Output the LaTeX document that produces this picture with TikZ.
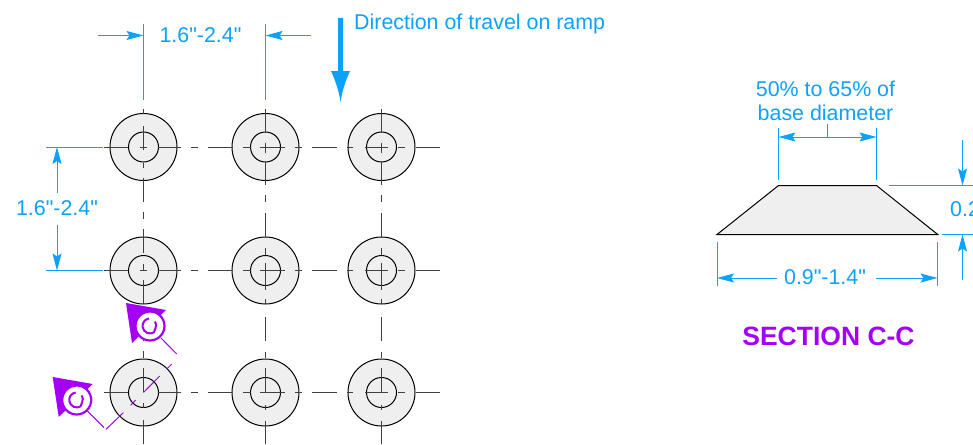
\documentclass[tikz,border=0pt]{standalone}
\usepackage{fontspec}
\setmainfont{Liberation Sans}[Ligatures=TeXOff]
\usepackage{tikz}
\usetikzlibrary{arrows.meta}
\definecolor{dimblue}{HTML}{0CA2FA}
\definecolor{secpurple}{HTML}{A400F5}
\definecolor{padgray}{HTML}{EFEFEF}
\tikzset{
	dimline/.style={draw=dimblue, line width=1pt},
	dimarrow/.style={dimline, -{Stealth[length=17pt,width=9pt,inset=3pt,color=dimblue]}},
	dimtext/.style={text=dimblue, inner sep=0pt, font=\fontsize{21.4}{24}\selectfont},
	outerpad/.style={circle, draw=black, fill=padgray, line width=1pt, minimum size=67pt, inner sep=0pt},
	innerpad/.style={circle, draw=black, line width=1pt, minimum size=30pt, inner sep=0pt},
	centerline/.style={draw=black!75, line width=1pt},
	cutline/.style={draw=secpurple, line width=1pt},
}
\newcommand{\cutmark}[3]{%
	\fill [secpurple] (#1-24,#2-23) -- (#1+16,#2-16) -- (#1-18,#2+17) -- cycle;
	\node [circle, draw=secpurple, fill=white, line width=2.2pt, minimum size=29pt, inner sep=0pt] (#3) at (#1,#2) {};
	\draw [secpurple, line width=2pt] (#1-1,#2-7.5) arc[start angle=98, end angle=300, x radius=7.5, y radius=-7.5] .. controls (#1+7,#2-1) and (#1+6.5,#2-3) .. (#1+5,#2-4.5);
}

\begin{document}
\begin{tikzpicture}[x=1pt,y=-1pt]
	\useasboundingbox (0,0) rectangle (973,444);
	% pads
	\foreach \x/\c in {143.5/a,265.5/b,381.5/c}
		\foreach \y/\r in {147/1,270.5/2,392.5/3} {
			\node [outerpad] (pad\c\r) at (\x,\y) {};
			\node [innerpad] (hole\c\r) at (\x,\y) {};
		}
	% horizontal center lines
	\foreach \y in {147,270.5,392.5}
		\foreach \s/\e in {104/128,158/181,191/198,208/232,243/251,260/285,295/302,312/337,347/353,365/388,398/405,416/440}
			\draw [centerline] (\s,\y) -- (\e,\y);
	\foreach \y in {147,270.5}
		\draw [centerline] (139.5,\y) -- (146.5,\y);
	% vertical center lines
	\foreach \s/\e in {109/114,126/150,163/168,178/202,212/219,229/253,264/271,280/304,317/341,351/358,368/392,403/408,420/444}
		\draw [centerline] (143.5,\s) -- (143.5,\e);
	\foreach \x in {265.5,381.5}
		\foreach \s/\e in {109/133,143/153,162/185,195/202,213/237,248/255,263/290,299/304,317/341,352/358,368/392,405/410,421/444}
			\draw [centerline] (\x,\s) -- (\x,\e);
	% section cut
	\draw [cutline] (161,338) -- (176.7,354);
	\draw [cutline] (171.7,364) -- (166.7,369);
	\draw [cutline] (159.7,376) -- (143.5,392.5);
	\draw [cutline] (135.7,400) -- (130.7,405.3);
	\draw [cutline] (123.3,412.7) -- (106,429.3);
	\draw [cutline] (104,427.7) -- (87.3,411);
	\cutmark{150}{326}{cutu}
	\cutmark{76.7}{400}{cutl}
	% top dimension
	\coordinate (tl) at (143.5,35.5);
	\coordinate (tr) at (265.5,35.5);
	\draw [dimline] (143.5,24) -- (143.5,100);
	\draw [dimline] (265.5,24) -- (265.5,100);
	\draw [dimarrow] (97.5,35.5) -- (tl);
	\draw [dimarrow] (311,35.5) -- (tr);
	\node [dimtext] (toplabel) at (200.5,35.5) {1.6"-2.4"};
	% left dimension
	\coordinate (lt) at (57,147);
	\coordinate (lb) at (57,270.5);
	\draw [dimline] (46,147) -- (103,147);
	\draw [dimline] (46,270.5) -- (103,270.5);
	\draw [dimarrow] (57,193) -- (lt);
	\draw [dimarrow] (57,225) -- (lb);
	\node [dimtext] (leftlabel) at (57,208.5) {1.6"-2.4"};
	% direction of travel
	\fill [dimblue] (338,18) -- (343.2,18) -- (343.2,71) -- (350,71) .. controls (345,82) and (342,92) .. (340.6,102) .. controls (339,92) and (336,82) .. (331,71) -- (338,71) -- cycle;
	\node [dimtext, anchor=base west] (travel) at (354,29.5) {Direction of travel on ramp};
	% section
	\draw [fill=padgray, draw=black, line width=1pt] (717,234.5) -- (778.5,185.5) -- (876.5,185.5) -- (937.7,234.5) -- cycle;
	\node [dimtext, align=center] (toptext) at (825.5,100.5) {50\% to 65\% of\\base diameter};
	\coordinate (ul) at (778.5,137);
	\coordinate (ur) at (876.5,137);
	\draw [dimline] (778.5,128) -- (778.5,180);
	\draw [dimline] (876.5,128) -- (876.5,180);
	\draw [dimline] (827.5,124) -- (827.5,137);
	\draw [dimarrow] (827.5,137) -- (ul);
	\draw [dimarrow] (827.5,137) -- (ur);
	% height
	\coordinate (ht) at (962.5,185.5);
	\coordinate (hb) at (962.5,234.5);
	\draw [dimline] (889,185.5) -- (973,185.5);
	\draw [dimline] (942,234.5) -- (973,234.5);
	\draw [dimarrow] (962.5,140) -- (ht);
	\draw [dimarrow] (962.5,280) -- (hb);
	\node [dimtext, anchor=west] (heightlabel) at (950,209.5) {0.2};
	% base
	\coordinate (bl) at (717,278);
	\coordinate (br) at (937.5,278);
	\draw [dimline] (717,242) -- (717,286);
	\draw [dimline] (937.5,242) -- (937.5,286);
	\draw [dimarrow] (777,278) -- (bl);
	\draw [dimarrow] (876,278) -- (br);
	\node [dimtext] (baselabel) at (825,277.5) {0.9"-1.4"};
	\node [text=secpurple, inner sep=0pt, font=\fontsize{26.5}{30}\selectfont\bfseries] (sectitle) at (828.5,336) {SECTION C-C};
\end{tikzpicture}
\end{document}
